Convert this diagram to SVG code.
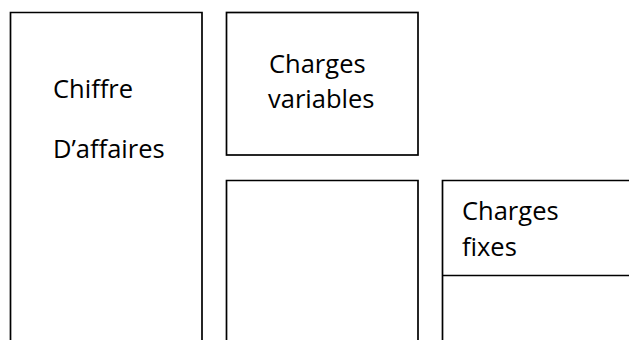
<svg xmlns="http://www.w3.org/2000/svg" width="629" height="340" viewBox="0 0 629 340">
<style>
.box{fill:none;stroke:#000;stroke-width:1.7}
.t{font-family:"Open Sans","Liberation Sans",sans-serif;font-size:25.5px;fill:#000}
</style>
<rect width="629" height="340" fill="#fff"/>
<g id="chiffre-affaires">
<path class="box" d="M10.5,345 V12.5 H202 V345"/>
<text class="t" x="53" y="98">Chiffre</text>
<text class="t" x="53" y="158">D’affaires</text>
</g>
<g id="charges-variables">
<rect class="box" x="226.5" y="12.5" width="191.5" height="142.5"/>
<text class="t" x="269" y="73">Charges</text>
<text class="t" x="268" y="108">variables</text>
</g>
<g id="marge">
<path class="box" d="M226.5,345 V180.5 H418 V345"/>
</g>
<g id="charges-fixes">
<path class="box" d="M442.5,345 V180.5 H635 M442.5,275.5 H635"/>
<text class="t" x="462" y="220">Charges</text>
<text class="t" x="462" y="256">fixes</text>
</g>
<g id="connectors"/>
</svg>
